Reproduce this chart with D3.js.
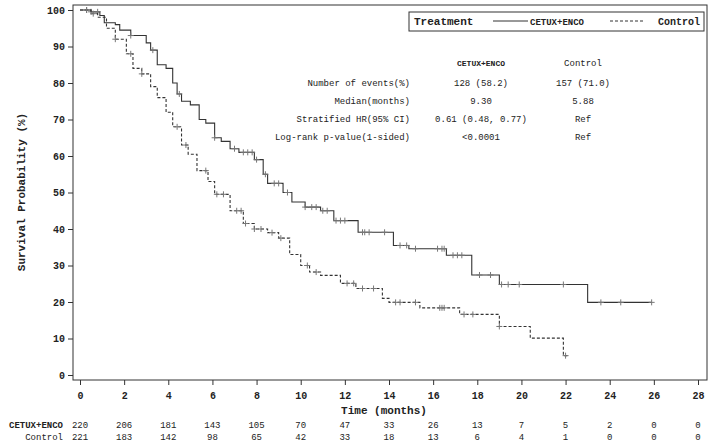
<!DOCTYPE html>
<html><head><meta charset="utf-8">
<script src="https://cdn.jsdelivr.net/npm/d3@7"></script>
<style>body{margin:0;background:#fff}text{font-family:"Liberation Mono","DejaVu Sans Mono",monospace;fill:#222}</style>
</head><body><svg id="c" width="713" height="445"></svg>
<script>
// step curve points [time, survival%]
var cetuxT = [0,0.5,0.9,1.1,1.6,1.8,2.3,3.0,3.2,3.5,3.9,4.2,4.4,4.6,5.0,5.4,5.7,6.1,6.4,6.8,7.2,7.9,8.3,8.5,9.2,9.6,10.2,10.9,11.5,12.6,14.2,14.9,16.6,17.75,19.0,23.0,25.9];
var cetuxS = [100,99.5,98.5,96.5,96,94.5,93,91,89,85,84,80,77,75,74,70,69,65,64,62,61,59,55,52.5,50,47.4,46,45,42.3,39.1,35.5,34.6,32.8,27.4,24.8,19.9,19.9];
var ctrlT = [0,0.5,0.8,1.2,1.6,2.1,2.4,2.8,3.2,3.5,3.9,4.2,4.6,4.9,5.3,5.8,6.1,6.8,7.4,7.9,8.5,9.0,9.5,10.0,10.4,10.9,11.8,12.5,13.7,14.0,15.4,17.2,19.0,20.4,21.9,22.1];
var ctrlS = [100,99,98,95,92,88,84,82.5,79,76,72,68,63,60.5,56,53,49.5,45,41.5,40,39,37.5,33,30,28.2,27.3,25.1,23.7,21,19.9,18.4,16.6,13.3,10.1,5.3,5.3];
var cetuxCens = [0.3,0.5,0.8,2.3,3.3,4.5,6.1,7.0,7.4,7.6,7.8,8.0,8.4,8.8,9.0,9.4,10.2,10.5,10.7,11.0,11.2,11.6,11.8,12.0,12.8,12.9,13.1,13.8,14.5,14.8,15.2,16.2,16.4,16.5,16.9,17.1,17.3,18.1,18.6,19.1,19.4,19.9,21.9,23.6,24.5,25.9];
var ctrlCens = [0.3,0.6,1.6,2.3,2.8,4.4,4.8,5.7,6.2,6.5,7.1,7.3,7.5,7.9,8.2,8.7,9.1,10.3,10.7,12.1,12.4,12.8,13.3,14.3,14.5,15.2,16.3,16.4,16.5,17.4,17.8,19.0,22.0];
var xTicks = d3.range(0,29,2);
var yTicks = d3.range(0,101,10);
var riskCetux = [220,206,181,143,105,70,47,33,26,13,7,5,2,0,0];
var riskCtrl = [221,183,142,98,65,42,33,18,13,6,4,1,0,0,0];
var statCols = ["CETUX+ENCO","Control"];
var statRows = ["Number of events(%)","Median(months)","Stratified HR(95% CI)","Log-rank p-value(1-sided)"];
var statCetux = ["128 (58.2)","9.30","0.61 (0.48, 0.77)","<0.0001"];
var statCtrl = ["157 (71.0)","5.88","Ref","Ref"];

var svg = d3.select("#c");
var x = d3.scaleLinear().domain([0,28]).range([80,698]);
var y = d3.scaleLinear().domain([0,100]).range([375,10]);
var L=73,T=5,R=707,B=380;
svg.append("rect").attr("x",L).attr("y",T).attr("width",R-L).attr("height",B-T).attr("fill","none").attr("stroke","#333");

var ya = svg.append("g").attr("transform","translate("+L+",0)").call(d3.axisLeft(y).tickValues(yTicks).tickSize(5).tickPadding(3));
var xa = svg.append("g").attr("transform","translate(0,"+B+")").call(d3.axisBottom(x).tickValues(xTicks).tickSize(5).tickPadding(7));
[ya,xa].forEach(function(a){a.select(".domain").remove();a.selectAll("line").attr("stroke","#333");a.selectAll("text").attr("font-size",10).attr("font-weight","bold").style("font-family","Liberation Mono");});

svg.append("text").attr("transform","translate(25,192) rotate(-90)").attr("text-anchor","middle").attr("font-size",11).attr("font-weight","bold").text("Survival Probability (%)");
svg.append("text").attr("x",384).attr("y",414).attr("text-anchor","middle").attr("font-size",11).attr("font-weight","bold").text("Time (months)");

var line = d3.line().x(function(d){return x(d[0]);}).y(function(d){return y(d[1]);}).curve(d3.curveStepAfter);
function draw(T_,S_,dash,cens){
  var pts = T_.map(function(t,i){return [t,S_[i]];});
  svg.append("path").datum(pts).attr("d",line).attr("fill","none").attr("stroke","#333").attr("stroke-width",1.1).attr("stroke-dasharray",dash);
  var f = function(t){var i=d3.bisectRight(T_,t)-1;return S_[Math.max(0,i)];};
  cens.forEach(function(t){
    var cx=x(t),cy=y(f(t));
    svg.append("path").attr("d","M"+(cx-3)+","+cy+"H"+(cx+3)+"M"+cx+","+(cy-3)+"V"+(cy+3)).attr("stroke","#777").attr("stroke-width",1);
  });
}
draw(cetuxT,cetuxS,null,cetuxCens);
draw(ctrlT,ctrlS,"3,2",ctrlCens);

// legend
svg.append("rect").attr("x",409).attr("y",12).attr("width",295).attr("height",19).attr("fill","#fff").attr("stroke","#333");
svg.append("text").attr("x",414).attr("y",25).attr("font-size",11).attr("font-weight","bold").text("Treatment");
svg.append("line").attr("x1",493).attr("x2",528).attr("y1",21).attr("y2",21).attr("stroke","#333");
svg.append("text").attr("x",530).attr("y",25).attr("font-size",9).attr("font-weight","bold").text("CETUX+ENCO");
svg.append("line").attr("x1",610).attr("x2",643).attr("y1",21).attr("y2",21).attr("stroke","#333").attr("stroke-dasharray","3,2");
svg.append("text").attr("x",700).attr("y",25).attr("text-anchor","end").attr("font-size",10).attr("font-weight","bold").text("Control");

// stats table
svg.append("text").attr("x",481).attr("y",66).attr("text-anchor","middle").attr("font-size",8).attr("font-weight","bold").text(statCols[0]);
svg.append("text").attr("x",583).attr("y",66).attr("text-anchor","middle").attr("font-size",9).text(statCols[1]);
statRows.forEach(function(r,i){
  var yy=86+i*18;
  svg.append("text").attr("x",410).attr("y",yy).attr("text-anchor","end").attr("font-size",9).text(r);
  svg.append("text").attr("x",481).attr("y",yy).attr("text-anchor","middle").attr("font-size",9).text(statCetux[i]);
  svg.append("text").attr("x",583).attr("y",yy).attr("text-anchor","middle").attr("font-size",9).text(statCtrl[i]);
});

// risk table
svg.append("text").attr("x",63).attr("y",428).attr("text-anchor","end").attr("font-size",9).attr("font-weight","bold").text("CETUX+ENCO");
svg.append("text").attr("x",63).attr("y",440).attr("text-anchor","end").attr("font-size",9).text("Control");
xTicks.forEach(function(t,i){
  svg.append("text").attr("x",x(t)).attr("y",428).attr("text-anchor","middle").attr("font-size",9).text(riskCetux[i]);
  svg.append("text").attr("x",x(t)).attr("y",440).attr("text-anchor","middle").attr("font-size",9).text(riskCtrl[i]);
});
</script></body></html>
